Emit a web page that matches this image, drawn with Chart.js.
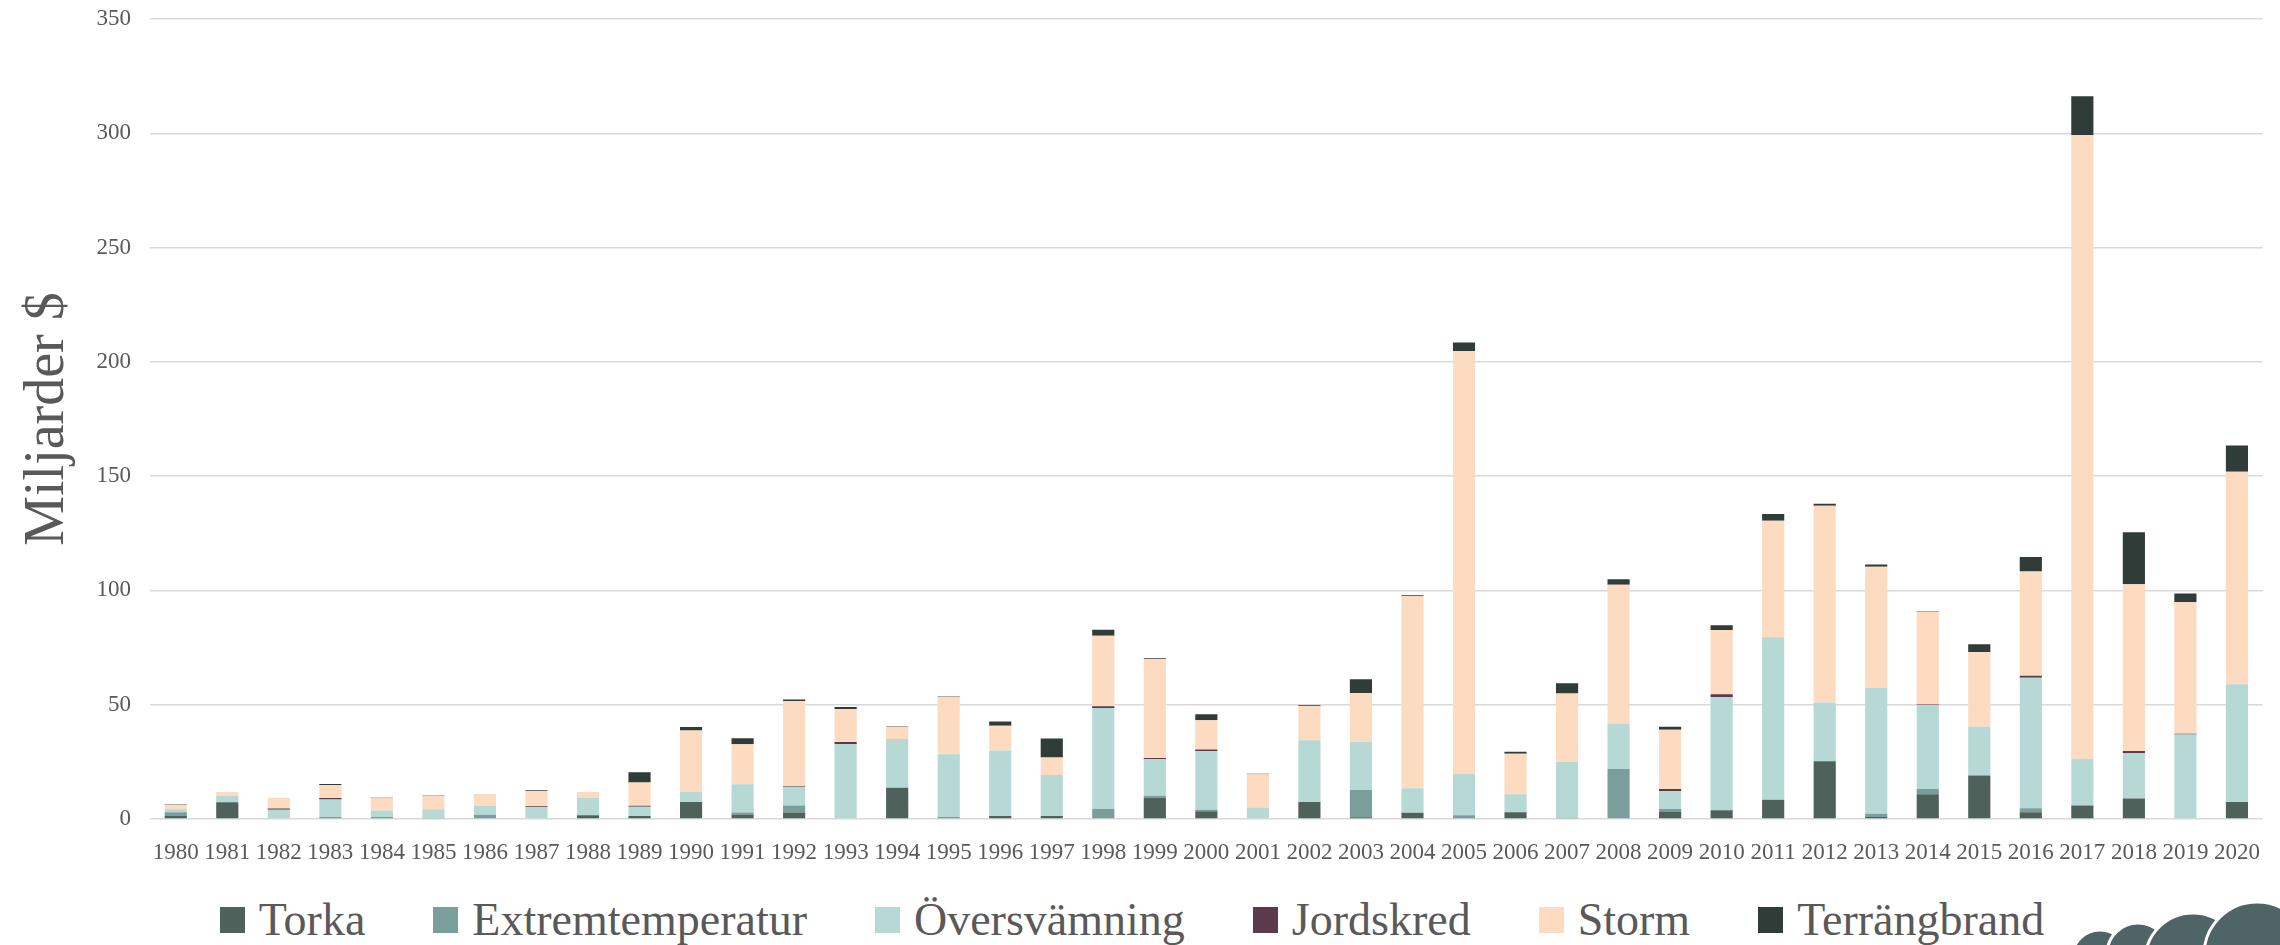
<!DOCTYPE html>
<html>
<head>
<meta charset="utf-8">
<script src="https://cdn.jsdelivr.net/npm/chart.js@4"></script>
<style>
body{margin:0;background:#fff;overflow:hidden;}
#wrap{position:relative;width:2280px;height:945px;}
#box{position:absolute;left:0;top:0;width:2280px;height:880px;}
#legend{position:absolute;left:0;top:897px;width:2264px;padding-right:16px;height:46px;display:flex;justify-content:center;gap:68px;font-family:"Liberation Serif",serif;font-size:46px;line-height:46px;color:#595959;}
#legend .item{display:flex;align-items:center;white-space:nowrap;}
#legend .sw{width:25px;height:26px;margin-right:14px;}
#logo{position:absolute;left:2040px;top:880px;}
</style>
</head>
<body>
<div id="wrap">
<div id="box"><canvas id="typesChart"></canvas></div>
<div id="legend"></div>
<svg id="logo" width="240" height="65" viewBox="2040 880 240 65">
<g fill="#4f6466" stroke="#fff" stroke-width="3">
<circle cx="2100" cy="958" r="28"/>
<circle cx="2138" cy="954" r="31"/>
<circle cx="2193" cy="961" r="48"/>
<circle cx="2257" cy="955" r="53"/>
</g>
</svg>
</div>

<script>

// YEARS
const years = [];
for(let y = 1980; y <= 2020; y++){
    years.push(String(y));
}

const yTicks = [0,50,100,150,200,250,300,350];

// VALUES (miljarder $)
const torka = [1.3,7.3,0,0,0,0,0,0,1.6,1.3,
7.4,1.9,2.8,0,13.7,0,1.3,1.3,0,9.3,
3.4,0,7.4,0.8,2.7,0,2.9,0,0,3.3,
3.8,8.4,25.3,0.9,10.8,19.0,2.9,5.9,9.0,0,
7.4];

const extremtemperatur = [1.7,0,0.3,0.9,0.9,0.4,1.9,0,0,0,
0,0.9,3.1,0,0,0.9,0,0,4.4,0.9,
0.6,0,0,11.9,0,1.6,0,0.5,21.9,1.1,
0,0,0,1.4,2.3,0,1.8,0,0,0,
0];

const oversvamning = [1.3,2.8,3.8,7.6,2.8,3.9,3.8,5.2,7.7,4.1,
4.5,12.4,8.2,32.8,21.3,27.4,28.7,17.9,44.2,15.9,
25.8,5.0,27.1,21.1,10.7,18.3,7.9,24.5,19.9,7.9,
49.5,71.1,25.7,55.1,36.8,21.4,57.1,20.5,19.9,37.0,
51.5];

const jordskred = [0,0,0.5,0.7,0,0,0,0.4,0,0.4,
0,0,0.3,0.9,0,0,0,0,0.7,0.6,
0.6,0,0,0,0,0,0,0,0,0.8,
1.3,0,0,0,0.2,0,0.9,0,0.9,0.3,
0];

const storm = [1.9,1.7,4.7,5.7,5.4,6.0,5.2,6.7,2.5,10.2,
26.8,17.5,37.2,14.4,5.4,25.2,10.8,7.7,30.9,43.3,
12.8,14.6,14.9,21.3,84.1,184.9,17.8,29.9,60.7,25.9,
28.1,51.0,86.0,53.0,40.6,32.7,45.6,272.9,72.9,57.6,
93.0];

const terrangbrand = [0.2,0,0,0.4,0.2,0.2,0,0.3,0,4.4,
1.6,2.6,0.7,0.9,0.2,0.2,1.9,8.3,2.6,0.3,
2.6,0.2,0.4,6.0,0.4,3.7,0.8,4.5,2.4,1.4,
2.1,2.9,0.9,0.9,0.2,3.4,6.3,16.9,22.8,3.8,
11.5];


const textColor = '#595959';
const serif = '"Liberation Serif", "Times New Roman", serif';

const datasets = [
    {label:'Torka', data:torka, backgroundColor:'#4f615b'},
    {label:'Extremtemperatur', data:extremtemperatur, backgroundColor:'#799e9b'},
    {label:'Översvämning', data:oversvamning, backgroundColor:'#b6d9d6'},
    {label:'Jordskred', data:jordskred, backgroundColor:'#5a3a4b'},
    {label:'Storm', data:storm, backgroundColor:'#fcdbc0'},
    {label:'Terrängbrand', data:terrangbrand, backgroundColor:'#303c37'}
];

datasets.forEach(d => {
    d.borderWidth = 0;
    d.categoryPercentage = 1;
    d.barPercentage = 0.43;
});


const chart = new Chart(

document.getElementById('typesChart'),

{
    type:'bar',

    data:{
        labels:years,
        datasets:datasets
    },

    options:{
        responsive:true,
        maintainAspectRatio:false,
        animation:false,
        layout:{
            padding:{top:19, right:5, left:0, bottom:0}
        },
        plugins:{
            legend:{display:false},
            tooltip:{enabled:false}
        },
        scales:{
            x:{
                stacked:true,
                grid:{display:false, drawTicks:false},
                border:{display:false},
                ticks:{
                    color:textColor,
                    font:{family:serif, size:23},
                    autoSkip:false,
                    maxRotation:0,
                    padding:20
                },
                afterFit(scale){
                    scale.height = 61;
                }
            },
            y:{
                stacked:true,
                min:0,
                max:350,
                afterBuildTicks(scale){
                    scale.ticks = yTicks.map(v => ({value:v}));
                },
                grid:{color:'#d9d9d9', lineWidth:1.5, drawTicks:false},
                border:{display:false},
                ticks:{
                    color:textColor,
                    font:{family:serif, size:23},
                    padding:19
                },
                title:{
                    display:true,
                    text:'Miljarder $',
                    color:textColor,
                    font:{family:serif, size:56},
                    padding:{top:15, bottom:0}
                },
                afterFit(scale){
                    scale.width = 150;
                    scale.paddingTop = 0;
                    scale.paddingBottom = 0;
                }
            }
        }
    }

});


// HTML LEGEND
const legend = document.getElementById('legend');

chart.data.datasets.forEach(d => {

    const item = document.createElement('div');
    item.className = 'item';

    const sw = document.createElement('span');
    sw.className = 'sw';
    sw.style.background = d.backgroundColor;

    const txt = document.createElement('span');
    txt.textContent = d.label;

    item.appendChild(sw);
    item.appendChild(txt);
    legend.appendChild(item);

});

</script>
</body>
</html>
